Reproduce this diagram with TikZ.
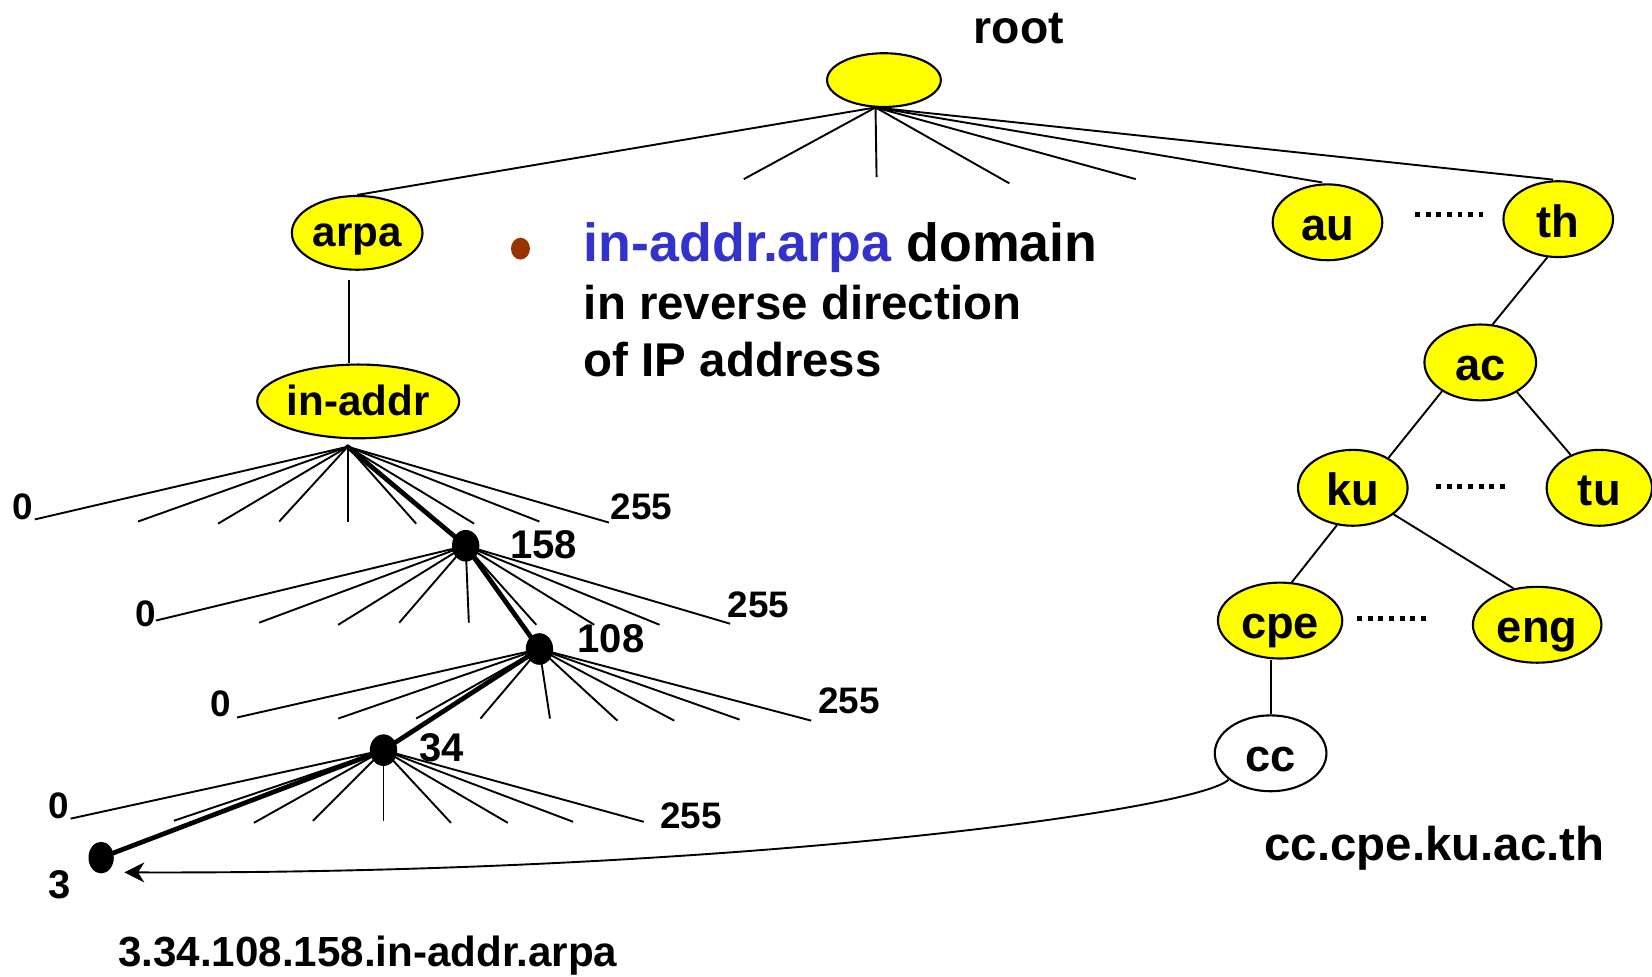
\documentclass[tikz,border=0pt]{standalone}
\usepackage{fontspec}
\setmainfont{Liberation Sans}
\usetikzlibrary{shapes.geometric,arrows.meta}
\definecolor{domyellow}{RGB}{255,255,0}
\definecolor{linkblue}{RGB}{51,51,204}
\definecolor{bulletbrown}{RGB}{153,51,0}
\newcommand{\bsz}[1]{\fontsize{#1}{#1}\selectfont\bfseries}

\begin{document}
\begin{tikzpicture}[x=1pt,y=-1pt,
  dom/.style={ellipse,draw=black,line width=2pt,fill=domyellow,inner sep=0pt,
              minimum height=72pt,font=\bsz{43},text height=34pt,text depth=0pt},
  smalldom/.style={dom,minimum height=70pt,font=\bsz{40},text height=26pt},
  hostdom/.style={dom,fill=white},
  dotnode/.style={ellipse,fill=black,inner sep=0pt,minimum width=26pt,minimum height=30pt},
  edge/.style={line width=1.8pt},
  pathedge/.style={line width=4.5pt},
  numlbl/.style={inner sep=0pt,font=\bsz{35}},
  pathlbl/.style={inner sep=0pt,font=\bsz{38}},
  ellipsis/.style={line width=4.7pt,dash pattern=on 4.7pt off 5.4pt},
]
\useasboundingbox (0,0) rectangle (1568,927);

% ---------- root and top level ----------
\node[dom,minimum width=108pt,minimum height=51pt] (root) at (839,76) {};
\node[anchor=base west,inner sep=0pt,font=\bsz{44}] (rootlbl) at (924,41) {root};
\coordinate (rfoot) at (831,102);

\node[smalldom,minimum width=124pt] (arpa) at (339,221) {arpa};
\node[dom,minimum width=104pt] (au) at (1260,211) {au};
\node[dom,minimum width=104pt] (th) at (1479,208) {th};

\foreach \x/\y [count=\i] in {706/170,832/168,958/174,1078/170}
  \coordinate (r\i) at (\x,\y);
\draw[edge] (rfoot) -- (arpa.north);
\foreach \i in {1,...,4} \draw[edge] (rfoot) -- (r\i);
\draw[edge,shorten >=5pt] (rfoot) -- (au.north);
\draw[edge,shorten >=5pt] (rfoot) -- (th.north);
\draw[ellipsis] (1343,204) -- (1408,204);

% ---------- explanatory text ----------
\node[circle,fill=bulletbrown,inner sep=0pt,minimum size=18pt,yscale=1.15] (bullet) at (494,236) {};
\node[anchor=base west,inner sep=0pt,font=\bsz{51}] (t1) at (554,248)
  {\textcolor{linkblue}{in-addr.arpa} domain};
\node[anchor=base west,inner sep=0pt,font=\bsz{45}] (t2) at (554,303) {in reverse direction};
\node[anchor=base west,inner sep=0pt,font=\bsz{45}] (t3) at (554,357) {of IP address};

% ---------- in-addr.arpa subtree ----------
\node[smalldom,minimum width=180pt] (inaddr) at (340,381) {in-addr};
\draw[edge] (arpa.south) ++(-8,9) coordinate (a1) -- (a1 |- inaddr.north);
\coordinate (iafoot) at (330,424);

\node[dotnode] (n158) at (442,518) {};
\node[dotnode] (n108) at (512,616) {};
\node[dotnode] (n34) at (364,712) {};
\node[dotnode,minimum width=24pt] (n3) at (96,814) {};

% first octet fan
\foreach \x/\y [count=\i] in {33/493,131/495,207/497,265/495,330/495,395/497,450/497,512/495,578/496}
  \coordinate (fa\i) at (\x,\y);
\foreach \i in {1,...,9} \draw[edge] (iafoot) -- (fa\i);
% second octet fan
\foreach \x/\y [count=\i] in {148/589,246/591,321/593,379/591,445/591,509/593,564/593,626/593,693/592}
  \coordinate (fb\i) at (\x,\y);
\foreach \i in {1,...,9} \draw[edge] (n158.center) -- (fb\i);
% third octet fan
\foreach \x/\y [count=\i] in {225/681,321/682,395/682,456/682,522/682,586/684,640/684,702/683,770/684}
  \coordinate (fc\i) at (\x,\y);
\foreach \i in {1,...,9} \draw[edge] (n108.center) -- (fc\i);
% fourth octet fan
\foreach \x/\y [count=\i] in {67/777,165/779,241/781,297/779,364/779,428/781,482/781,544/780,611/780}
  \coordinate (fd\i) at (\x,\y);
\foreach \i in {1,...,9} \draw[edge] (n34.center) -- (fd\i);

% lookup path 158.108.34.3
\draw[pathedge,line cap=round] (iafoot) -- (n158.center) -- (n108.center) -- (n34.center) -- (n3.center);

% octet labels
\node[numlbl] (la0) at (22,481) {0};
\node[numlbl] (la255) at (609,481) {255};
\node[pathlbl] (l158) at (516,517) {158};
\node[numlbl] (lb0) at (138,583) {0};
\node[numlbl] (lb255) at (720,574) {255};
\node[pathlbl] (l108) at (580,606) {108};
\node[numlbl] (lc0) at (210,668) {0};
\node[numlbl] (lc255) at (806,665) {255};
\node[pathlbl] (l34) at (419,710) {34};
\node[numlbl] (ld0) at (56,765) {0};
\node[numlbl] (ld255) at (656,774) {255};
\node[pathlbl] (l3) at (57,840) {3};

\node[anchor=base west,inner sep=0pt,font=\bsz{40}] (revname) at (112,917) {3.34.108.158.in-addr.arpa};

% ---------- th subtree ----------
\node[dom,minimum width=106pt] (ac) at (1405,344) {ac};
\node[dom,minimum width=104pt] (ku) at (1284,463) {ku};
\node[dom,minimum width=100pt] (tu) at (1518,463) {tu};
\node[dom,minimum width=118pt] (cpe) at (1215,589) {cpe};
\node[dom,minimum width=122pt] (eng) at (1459,593) {eng};
\node[hostdom,minimum width=106pt] (cc) at (1206,715) {cc};

\draw[edge] (th.254) -- (ac.72);
\draw[edge] (ac.217) -- (ku.40);
\draw[edge] (ac.321) -- (tu.131);
\draw[edge] (ku.247) -- (cpe.73);
\draw[edge] (ku.327) -- (eng.123);
\draw[edge] (cc.north |- cpe.south) -- (cc.north);
\draw[ellipsis] (1363,462) -- (1428,462);
\draw[ellipsis] (1288,587) -- (1353,587);

\node[anchor=base west,inner sep=0pt,font=\bsz{45}] (fwdname) at (1200,817) {cc.cpe.ku.ac.th};

% ---------- mapping arrow ----------
\coordinate (tip3) at (118,828);
\draw[line width=1.8pt,-{Stealth[length=19pt,width=19pt,inset=6pt]}]
  (cc.212) .. controls (1140,768) and (700,830) .. (tip3);
\end{tikzpicture}
\end{document}
